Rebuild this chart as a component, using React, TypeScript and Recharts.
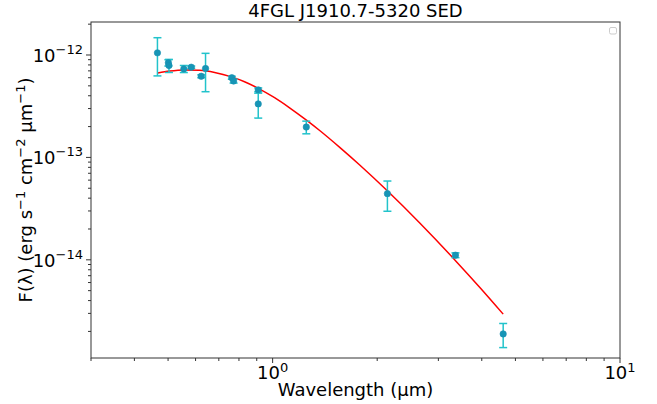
import * as React from "react";
import {
  ComposedChart,
  Line,
  Scatter,
  ErrorBar,
  XAxis,
  YAxis,
} from "recharts";

// observed photometry (wavelength in µm, flux, symmetric error)
const obsWave = [0.466, 0.501, 0.503, 0.555, 0.583, 0.623, 0.641, 0.763, 0.772, 0.909, 0.909, 1.25, 2.14, 3.36, 4.61];
const obsFlux = [1.05e-12, 8.4e-13, 7.9e-13, 7.32e-13, 7.6e-13, 6.2e-13, 7.38e-13, 6.0e-13, 5.57e-13, 4.57e-13, 3.33e-13, 1.98e-13, 4.43e-14, 1.11e-14, 1.89e-15];
const obsErr = [4.25e-13, 0.6e-13, 1.15e-13, 0.58e-13, 0.2e-13, 0.2e-13, 3.0e-13, 0.2e-13, 0.25e-13, 0.2e-13, 0.91e-13, 0.28e-13, 1.45e-14, 0.06e-14, 0.5e-15];

// fitted model curve
const fitWave = [0.467, 0.505, 0.558, 0.616, 0.681, 0.762, 0.83, 0.909, 1.013, 1.119, 1.251, 1.366, 1.56, 1.781, 2.135, 2.652, 3.361, 3.95, 4.61];
const fitFlux = [6.68e-13, 6.97e-13, 7.15e-13, 7.09e-13, 6.76e-13, 6.11e-13, 5.48e-13, 4.73e-13, 3.83e-13, 3.05e-13, 2.31e-13, 1.83e-13, 1.253e-13, 8.43e-14, 4.75e-14, 2.29e-14, 9.82e-15, 5.37e-15, 2.95e-15];

const xMajor = [1, 10];
const xMinor = [0.3, 0.4, 0.5, 0.6, 0.7, 0.8, 0.9, 2, 3, 4, 5, 6, 7, 8, 9];
const yMajor = [1e-14, 1e-13, 1e-12];
const yMinor = [
  2e-15, 3e-15, 4e-15, 5e-15, 6e-15, 7e-15, 8e-15, 9e-15,
  2e-14, 3e-14, 4e-14, 5e-14, 6e-14, 7e-14, 8e-14, 9e-14,
  2e-13, 3e-13, 4e-13, 5e-13, 6e-13, 7e-13, 8e-13, 9e-13,
  2e-12,
];

const W = 657;
const H = 404;
const PLOT = { left: 91, top: 22, right: 620, bottom: 358 };
const FONT = "DejaVu Sans, sans-serif";
const AXIS = "#333";

const points = obsWave.map((x, i) => ({ x, y: obsFlux[i], err: obsErr[i] }));
const curve = fitWave.map((x, i) => ({ x, y: fitFlux[i] }));

const isMajor = (list: number[], v: number) => list.some((m) => Math.abs(m - v) / m < 1e-6);
const expOf = (v: number) => String(Math.round(Math.log10(v))).replace("-", "\u2212");

function XTick(props: any) {
  const { x, y, payload } = props;
  const v = payload.value as number;
  const major = isMajor(xMajor, v);
  return (
    <g>
      <line x1={x} x2={x} y1={y} y2={y + (major ? 5 : 3)} stroke={AXIS} strokeWidth={1} />
      {major ? (
        <text x={x} y={y + 21} textAnchor="middle" fontSize={18} fontFamily={FONT} fill="#000">
          10
          <tspan dy={-7} fontSize={13}>{expOf(v)}</tspan>
        </text>
      ) : null}
    </g>
  );
}

function YTick(props: any) {
  const { x, y, payload } = props;
  const v = payload.value as number;
  const major = isMajor(yMajor, v);
  return (
    <g>
      <line x1={x} x2={x - (major ? 5 : 3)} y1={y} y2={y} stroke={AXIS} strokeWidth={1} />
      {major ? (
        <text x={x - 8} y={y + 7} textAnchor="end" fontSize={18} fontFamily={FONT} fill="#000">
          10
          <tspan dy={-8} fontSize={13}>{expOf(v)}</tspan>
        </text>
      ) : null}
    </g>
  );
}

function Dot(props: any) {
  const { cx, cy } = props;
  if (cx == null || cy == null) return null;
  return <circle cx={cx} cy={cy} r={3.2} fill="#1695b6" stroke="#1a8fb0" strokeWidth={0.6} />;
}

export default function App(): JSX.Element {
  const midX = (PLOT.left + PLOT.right) / 2;
  const midY = (PLOT.top + PLOT.bottom) / 2;
  return (
    <div style={{ position: "absolute", left: 0, top: 0, width: W, height: H, background: "#fff" }}>
      <ComposedChart
        width={W}
        height={H}
        margin={{ top: PLOT.top, right: W - PLOT.right, left: 0, bottom: 0 }}
      >
        <XAxis
          dataKey="x"
          type="number"
          scale="log"
          domain={[0.3, 10]}
          allowDataOverflow
          ticks={[...xMinor, ...xMajor]}
          interval={0}
          height={H - PLOT.bottom}
          axisLine={false}
          tickLine={false}
          tickSize={0}
          tickMargin={0}
          tick={<XTick />}
        />
        <YAxis
          dataKey="y"
          type="number"
          scale="log"
          domain={[1.1e-15, 2.1e-12]}
          allowDataOverflow
          ticks={[...yMinor, ...yMajor]}
          interval={0}
          width={PLOT.left}
          axisLine={false}
          tickLine={false}
          tickSize={0}
          tickMargin={0}
          tick={<YTick />}
        />
        <Line
          data={curve}
          dataKey="y"
          type="monotone"
          stroke="#ff0000"
          strokeWidth={1.5}
          dot={false}
          activeDot={false}
          isAnimationActive={false}
        />
        <Scatter data={points} dataKey="y" shape={<Dot />} isAnimationActive={false}>
          <ErrorBar dataKey="err" direction="y" width={4} stroke="#22c3cb" strokeWidth={1.5} />
        </Scatter>
      </ComposedChart>
      <svg
        width={W}
        height={H}
        style={{ position: "absolute", left: 0, top: 0, pointerEvents: "none" }}
      >
        <rect
          x={PLOT.left}
          y={PLOT.top}
          width={PLOT.right - PLOT.left}
          height={PLOT.bottom - PLOT.top}
          fill="none"
          stroke={AXIS}
          strokeWidth={1}
        />
        <rect x={609.5} y={27.5} width={7} height={6.5} rx={1.5} fill="#fff" stroke="#cccccc" strokeWidth={1} />
        <text x={midX} y={17} textAnchor="middle" fontSize={18} fontFamily={FONT} fill="#000">
          4FGL J1910.7-5320 SED
        </text>
        <text x={midX} y={396} textAnchor="middle" fontSize={18} fontFamily={FONT} fill="#000">
          Wavelength (µm)
        </text>
        <text
          transform={`translate(32 ${midY}) rotate(-90)`}
          textAnchor="middle"
          fontSize={18}
          fontFamily={FONT}
          fill="#000"
        >
          F(λ) (erg s<tspan dy={-7} fontSize={13}>−1</tspan>
          <tspan dy={7}> cm</tspan>
          <tspan dy={-7} fontSize={13}>−2</tspan>
          <tspan dy={7}> µm</tspan>
          <tspan dy={-7} fontSize={13}>−1</tspan>
          <tspan dy={7}>)</tspan>
        </text>
      </svg>
    </div>
  );
}
